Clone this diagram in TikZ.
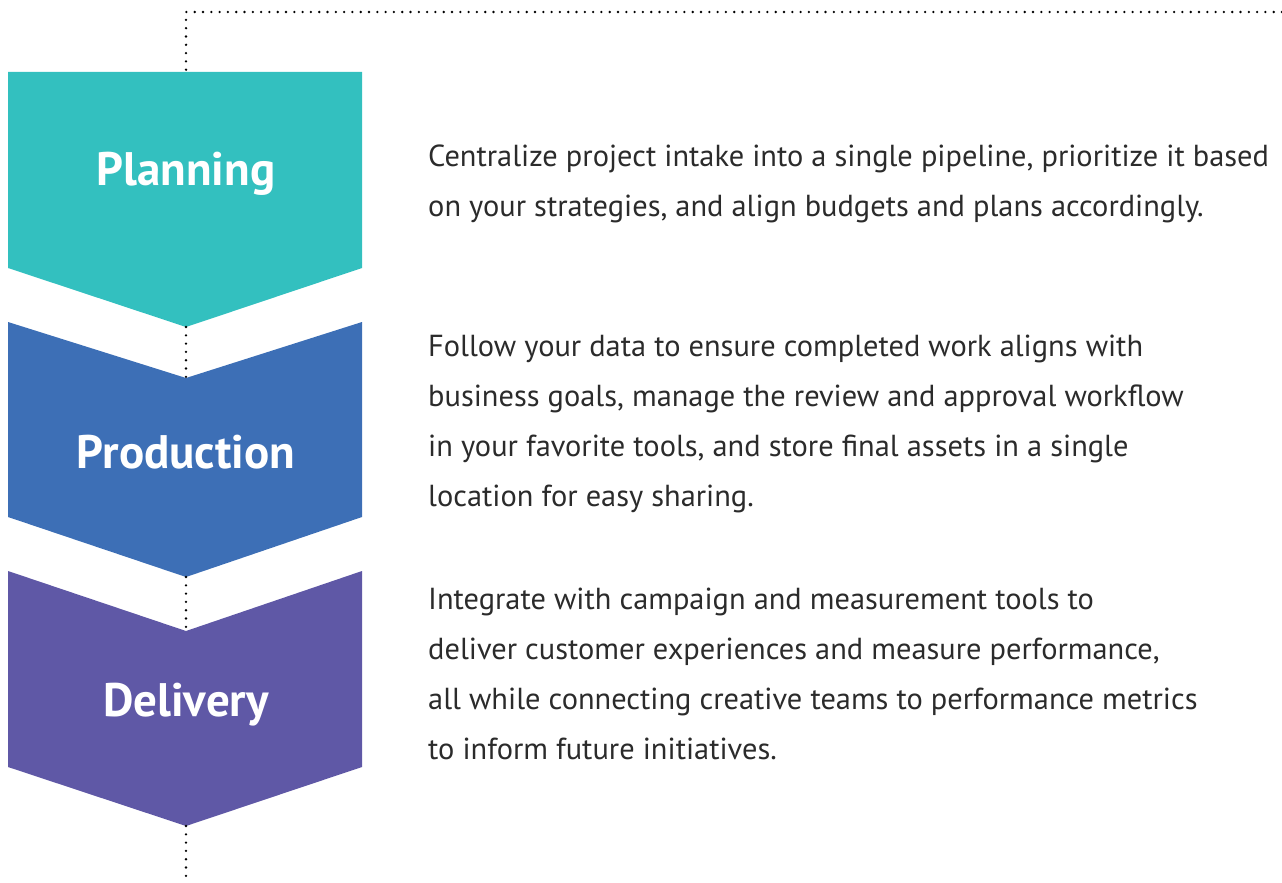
\documentclass[tikz,border=0pt]{standalone}
\usepackage{fontspec}
\setmainfont{PT Sans}
\definecolor{planc}{HTML}{33C0BF}
\definecolor{prodc}{HTML}{3D6FB6}
\definecolor{delc}{HTML}{5F58A6}
\definecolor{txtc}{HTML}{2B2B2B}
\begin{document}
\begin{tikzpicture}[x=1pt,y=-1pt,
  dotline/.style={line width=2.6pt,line cap=round,dash pattern=on 0pt off 8.3pt,black},
  lbl/.style={text=white,font=\fontsize{47}{50}\selectfont\bfseries,inner sep=0pt},
  body/.style={text=txtc,font=\fontsize{30.4}{50}\selectfont,align=left,anchor=west,inner sep=0pt}]
\useasboundingbox (0,0) rectangle (1282,883);
% shapes
\fill[planc] (8,72) -- (362,72) -- (362,268) -- (186,327) -- (8,268) -- cycle;
\fill[prodc] (8,322) -- (186,378) -- (362,322) -- (362,517) -- (186,577) -- (8,517) -- cycle;
\fill[delc] (8,571) -- (186,631) -- (362,571) -- (362,767) -- (186,826) -- (8,767) -- cycle;
% coordinates
\coordinate (corner) at (186,12);
\coordinate (right) at (1282,12);
\coordinate (ptop) at (186,72);
\coordinate (ptip) at (186,327);
\coordinate (rnotch) at (186,378);
\coordinate (rtip) at (186,577);
\coordinate (dnotch) at (186,631);
\coordinate (dtip) at (186,826);
\coordinate (bottom) at (186,883);
\draw[dotline] (right) -- (corner) -- (ptop);
\draw[dotline] (ptip) -- (rnotch);
\draw[dotline] (rtip) -- (dnotch);
\draw[dotline] (dtip) -- (bottom);
% labels
\node[lbl] (plan) at (186,174) {Planning};
\node[lbl] (prod) at (186,452) {Production};
\node[lbl] (deli) at (186,705) {Delivery};
% body
\node[body] (t1) at (428,184) {Centralize project intake into a single pipeline, prioritize it based\\on your strategies, and align budgets and plans accordingly.};
\node[body] (t2) at (428,424) {Follow your data to ensure completed work aligns with\\business goals, manage the review and approval workflow\\in your favorite tools, and store final assets in a single\\location for easy sharing.};
\node[body] (t3) at (428,674) {Integrate with campaign and measurement tools to\\deliver customer experiences and measure performance,\\all while connecting creative teams to performance metrics\\to inform future initiatives.};
\end{tikzpicture}
\end{document}
